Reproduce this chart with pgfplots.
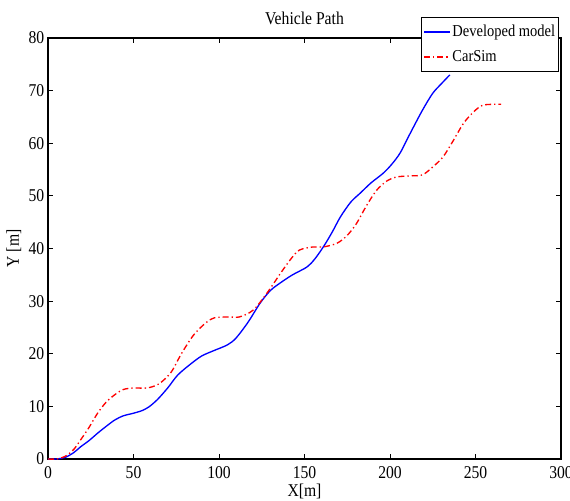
\documentclass[border=0pt]{standalone}
\usepackage{fontspec}
\setmainfont{Liberation Serif}[FakeStretch=0.87]
\usepackage{pgfplots}
\pgfplotsset{compat=1.18}
\begin{document}
\fontsize{10.8}{13}\selectfont
\begin{tikzpicture}
\useasboundingbox (-28.8pt,-24.6pt) rectangle (313.2pt,275.4pt);
\begin{axis}[
  at={(0,0)}, anchor=south west,
  width=307.8pt, height=252.6pt, scale only axis,
  xmin=0, xmax=300, ymin=0, ymax=80,
  xtick={0,50,...,300}, ytick={0,10,...,80},
  tick align=inside, tick pos=both,
  major tick length=3pt,
  every tick/.style={black, line width=0.6pt},
  axis line style={black, line width=0.8pt},
  /pgf/number format/assume math mode=true,
  ticklabel style={font=\fontsize{10.8}{13}\selectfont},
  xticklabel style={yshift=-0.5pt},
  yticklabel style={xshift=1.5pt},
  title={Vehicle Path},
  title style={font=\fontsize{10.8}{13}\selectfont, yshift=-2pt},
  xlabel={X[m]}, ylabel={Y [m]},
  label style={font=\fontsize{10.8}{13}\selectfont},
  xlabel style={yshift=4pt},
  ylabel style={yshift=-3pt},
  legend style={at={(0.996,1.05)}, anchor=north east, draw=black, line width=0.6pt, fill=white,
    font=\fontsize{10}{12}\selectfont, inner xsep=1pt, inner ysep=2.5pt, row sep=2.5pt,
    nodes={inner xsep=1pt}},
  legend cell align=left,
  legend image code/.code={\draw[#1, line width=0.8pt] (0cm,0cm) -- (0.55cm,0cm);},
  clip=false,
]
\addplot[blue, line width=0.8pt, smooth] coordinates {
(0,0)(5,0)(10,0.3)(15,1.2)(19,2.3)(24,3.5)(29,4.9)(34,6.2)(39,7.4)(44,8.2)(50,8.7)(55,9.2)(59,9.9)(64,11.3)(70,13.5)(76,16)(84,18.2)(90,19.6)(97,20.6)(105,21.7)(110,23)(117,26)(124,29.6)(130,32)(136,33.5)(143,35)(151.5,36.5)(156,38)(161,40.3)(166,43)(171,46)(177,48.8)(182.5,50.5)(189,52.5)(196,54.3)(201,56)(206,58.2)(212,62)(219,66.3)(225,69.5)(230,71.3)(235,73)
};
\addlegendentry{Developed model}
\addplot[red, line width=0.8pt, smooth, dash pattern=on 3.6pt off 1.8pt on 0.8pt off 1.8pt] coordinates {
(0,0)(5,0)(10,0.5)(15,1.8)(19,3.6)(24,6)(29,8.7)(34,10.8)(39,12.2)(44,13.2)(50,13.5)(58,13.5)(65,14.3)(72,16.5)(78,20)(85,23.5)(92,25.8)(97,26.8)(105,27)(112,27)(120,28.3)(128,31.5)(136,35.3)(142,38)(147,39.7)(155,40.3)(161,40.3)(169,41)(175,42.5)(180.5,44.8)(186,48)(192,51)(198,52.8)(204,53.6)(212,53.8)(219,54)(225,55.5)(231,57.4)(237,60.5)(243,63.8)(249,66)(254,67.2)(260,67.4)(265,67.4)
};
\addlegendentry{CarSim}
\end{axis}
\end{tikzpicture}
\end{document}
